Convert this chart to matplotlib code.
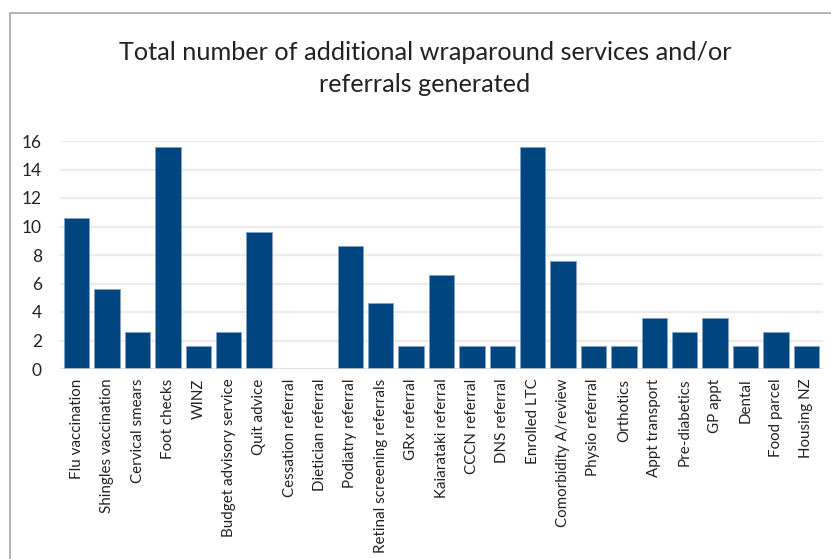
import matplotlib
matplotlib.use("Agg")
import matplotlib.pyplot as plt
from matplotlib.patches import Rectangle

categories = ["Flu vaccination", "Shingles vaccination", "Cervical smears", "Foot checks",
              "WINZ", "Budget advisory service", "Quit advice", "Cessation referral",
              "Dietician referral", "Podiatry referral", "Retinal screening referrals",
              "GRx referral", "Kaiarataki referral", "CCCN referral", "DNS referral",
              "Enrolled LTC", "Comorbidity A/review", "Physio referral", "Orthotics",
              "Appt transport", "Pre-diabetics", "GP appt", "Dental", "Food parcel",
              "Housing NZ"]
values = [10.6, 5.6, 2.6, 15.6, 1.6, 2.6, 9.6, 0, 0, 8.6, 4.6, 1.6, 6.6, 1.6, 1.6,
          15.6, 7.6, 1.6, 1.6, 3.6, 2.6, 3.6, 1.6, 2.6, 1.6]
yticks = [0, 2, 4, 6, 8, 10, 12, 14, 16]

plt.rcParams['font.family'] = ['Lato', 'DejaVu Sans']

W, H = 831, 559
fig = plt.figure(figsize=(W/100, H/100), dpi=100)

# outer border (cropped at right & bottom)
fig.patches.append(Rectangle((10/W, -0.1), 1.2, (H-13)/H + 0.1, transform=fig.transFigure,
                             fill=False, edgecolor='#a6a6a6', linewidth=1.2))

left, right = 60, 823
top, bottom = 141, 369
ax = fig.add_axes([left/W, 1-bottom/H, (right-left)/W, (bottom-top)/H])
x = list(range(len(categories)))
ax.bar(x, values, width=0.84, color='#00457f', edgecolor='#7fa2c4', linewidth=0.6, zorder=3)
ax.set_xlim(-0.55, len(categories)-0.45)
ax.set_ylim(0, 16)
ax.set_yticks(yticks)
ax.set_yticklabels([str(t) for t in yticks], fontsize=12.5, color='#222222')
ax.set_xticks(x)
ax.set_xticklabels(categories, rotation=90, fontsize=10.9, color='#222222')
ax.tick_params(axis='both', length=0)
ax.tick_params(axis='x', pad=7)
ax.tick_params(axis='y', pad=13)
for t in yticks[1:]:
    ax.axhline(t, color='#ececec', linewidth=1.6, zorder=1)
ax.axhline(0, color='#d9d9d9', linewidth=1.8, zorder=4)
for s in ax.spines.values():
    s.set_visible(False)

fig.text(425/W, 1-53/H, "Total number of additional wraparound services and/or",
         ha='center', va='center', fontsize=18.2, color='#222222')
fig.text(425/W, 1-85/H, "referrals generated",
         ha='center', va='center', fontsize=18.2, color='#222222')

fig.savefig("out.png", dpi=100)
